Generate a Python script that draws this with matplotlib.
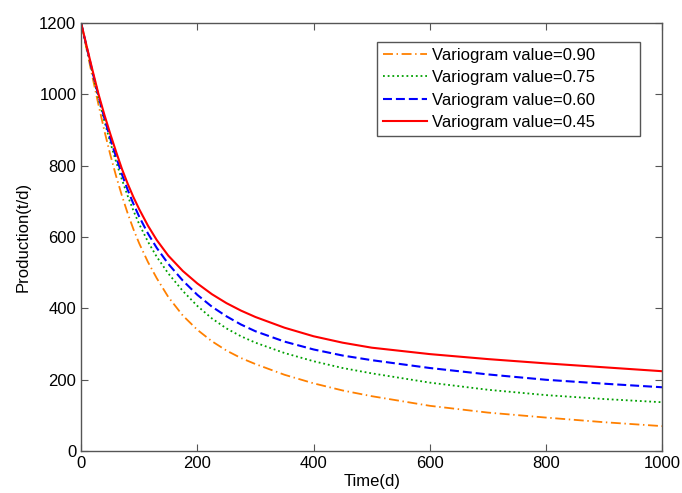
import matplotlib
matplotlib.use("Agg")
import matplotlib.pyplot as plt

# time (d) sample points
time_d = [0, 10, 20, 30, 40, 50, 60, 70, 80, 90, 100, 115, 130, 150, 175, 200,
          225, 250, 275, 300, 350, 400, 450, 500, 600, 700, 800, 900, 1000]

# production (t/d) per variogram value
prod_090 = [1200, 1122, 1045, 970, 898, 832, 772, 717, 667, 622, 582, 530, 485,
            432, 380, 340, 308, 282, 261, 244, 214, 190, 170, 154, 127, 108, 94,
            81, 70]
prod_075 = [1200, 1128, 1056, 988, 925, 866, 812, 762, 716, 674, 636, 587, 545,
            498, 449, 407, 372, 344, 322, 304, 275, 252, 233, 218, 192, 172, 157,
            146, 137]
prod_060 = [1200, 1130, 1060, 995, 933, 877, 825, 777, 733, 693, 657, 610, 570,
            525, 478, 438, 405, 378, 355, 336, 307, 285, 268, 255, 233, 215, 200,
            189, 179]
prod_045 = [1200, 1132, 1065, 1000, 943, 890, 840, 792, 750, 712, 678, 632, 592,
            548, 505, 470, 440, 415, 394, 376, 346, 322, 304, 290, 272, 258, 246,
            235, 224]

labels = ["Variogram value=0.90", "Variogram value=0.75",
          "Variogram value=0.60", "Variogram value=0.45"]

plt.rcParams["font.family"] = ["Liberation Sans", "DejaVu Sans"]
plt.rcParams["font.size"] = 12

fig = plt.figure(figsize=(6.82, 4.93), dpi=100)
ax = fig.add_axes([0.119, 0.085, 0.852, 0.868])

ax.plot(time_d, prod_090, color="#ff8000", linestyle=(0, (5.5, 2, 0.8, 2)), lw=1.3, label=labels[0])
ax.plot(time_d, prod_075, color="#00a000", linestyle=(0, (1, 1.6)), lw=1.3, label=labels[1])
ax.plot(time_d, prod_060, color="#0000ff", linestyle=(0, (4.3, 1.9)), lw=1.5, label=labels[2])
ax.plot(time_d, prod_045, color="#ff0000", linestyle="-", lw=1.5, label=labels[3])

ax.set_xlim(0, 1000)
ax.set_ylim(0, 1200)
ax.set_xticks([0, 200, 400, 600, 800, 1000])
ax.set_yticks([0, 200, 400, 600, 800, 1000, 1200])
ax.tick_params(direction="in", length=5, color="#555555", top=True, right=True,
               labelsize=12)
for s in ax.spines.values():
    s.set_color("#555555")
    s.set_linewidth(1.0)

ax.set_xlabel("Time(d)", fontsize=12, labelpad=2)
ax.set_ylabel("Production(t/d)", fontsize=12, labelpad=6)

leg = ax.legend(loc="upper left", bbox_to_anchor=(0.509, 0.736, 0.453, 0.22),
                mode="expand", fancybox=False, framealpha=1,
                edgecolor="#555555", handlelength=2.65, borderpad=0.35,
                labelspacing=0.45, handletextpad=0.3, borderaxespad=0,
                fontsize=12)
leg.get_frame().set_linewidth(1.0)

fig.savefig("out.png", dpi=100)
